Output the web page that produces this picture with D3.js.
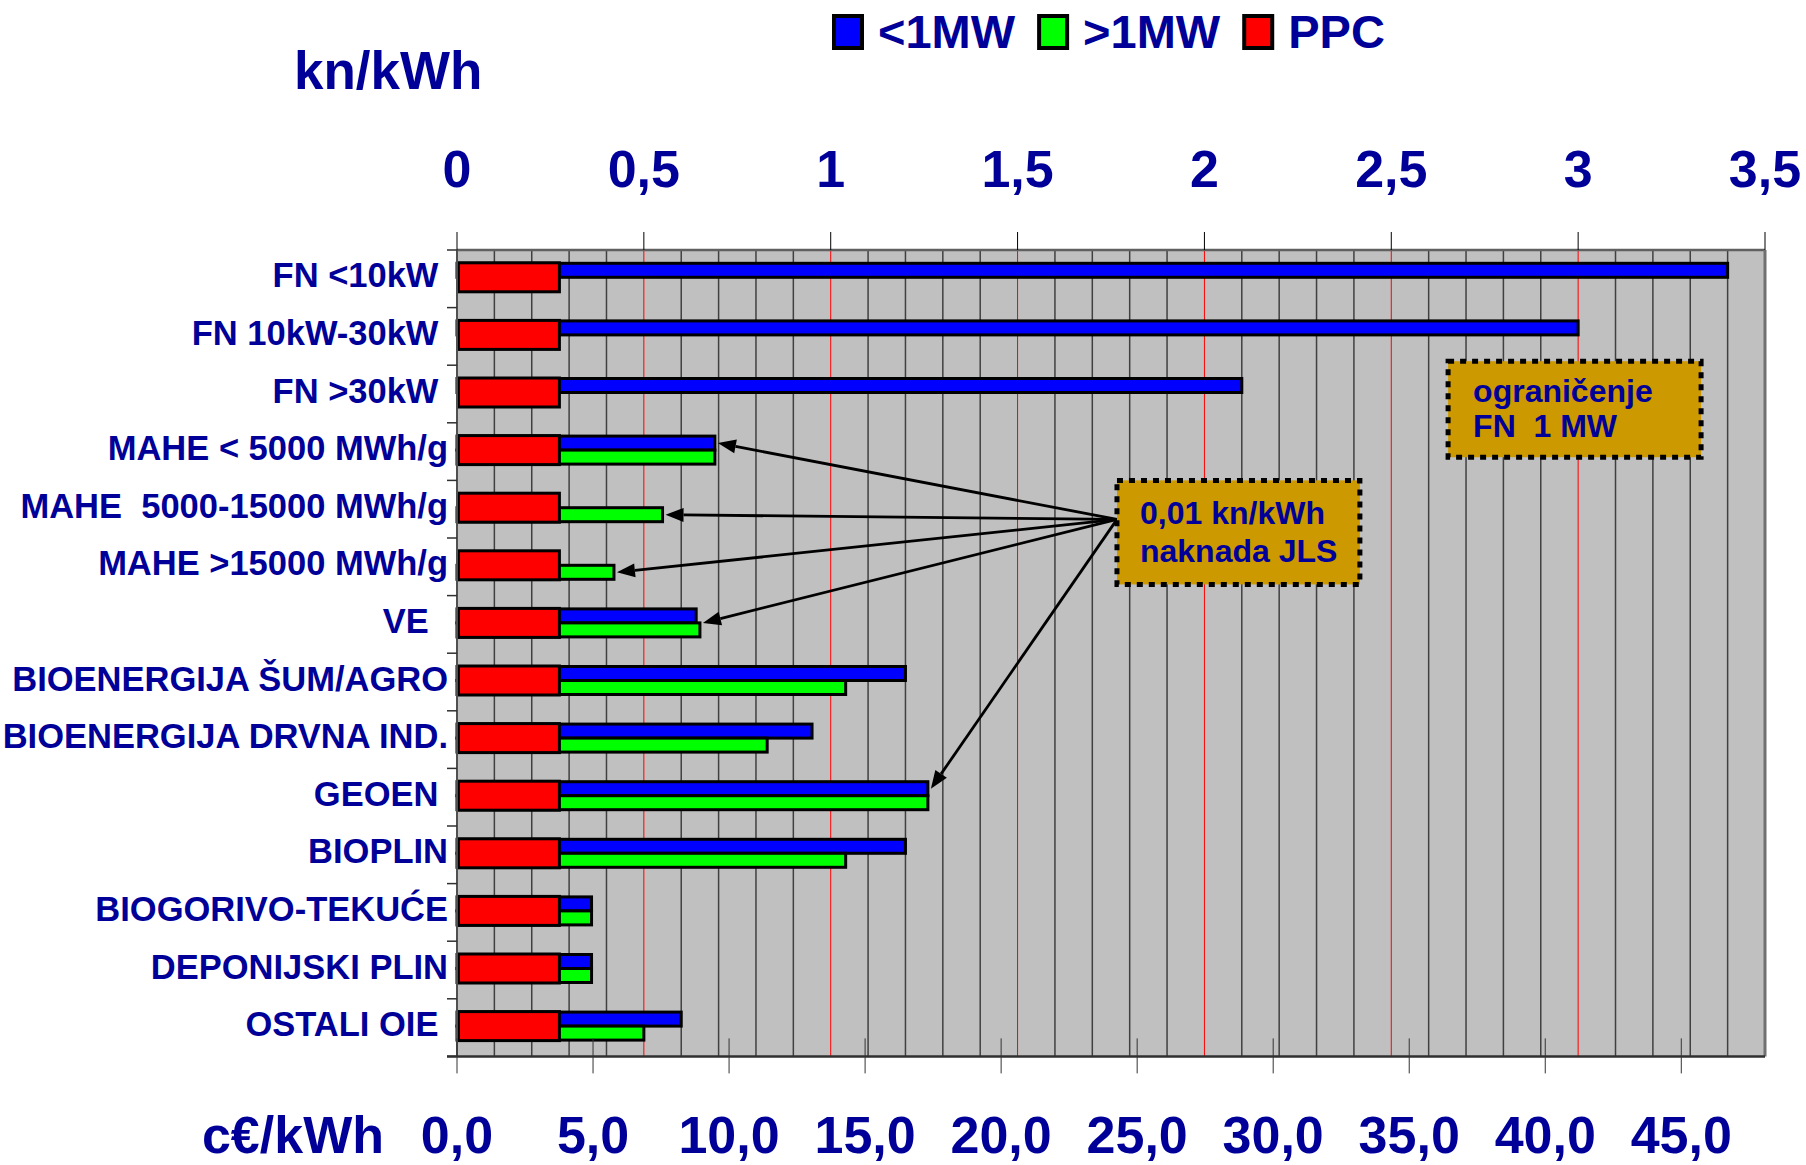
<!DOCTYPE html>
<html><head><meta charset="utf-8">
<script src="https://cdn.jsdelivr.net/npm/d3@7"></script>
<style>
html,body{margin:0;padding:0;background:#fff;}
svg{display:block;}
text{font-family:"Liberation Sans", Arial, sans-serif; font-weight:bold; fill:#000099; white-space:pre;}
</style></head><body>
<svg id="chart" width="1806" height="1165"></svg>
<script>
// ---------- data ----------
const categories = ["FN <10kW ", "FN 10kW-30kW ", "FN >30kW ", "MAHE < 5000 MWh/g", "MAHE  5000-15000 MWh/g",
  "MAHE >15000 MWh/g", "VE  ", "BIOENERGIJA ŠUM/AGRO", "BIOENERGIJA DRVNA IND.", "GEOEN ", "BIOPLIN",
  "BIOGORIVO-TEKUĆE", "DEPONIJSKI PLIN", "OSTALI OIE "];
const seriesNames = ["<1MW", ">1MW", "PPC"];
const below1MW = [3.40, 3.00, 2.10, 0.69, 0, 0, 0.64, 1.20, 0.95, 1.26, 1.20, 0.36, 0.36, 0.60];
const above1MW = [0, 0, 0, 0.69, 0.55, 0.42, 0.65, 1.04, 0.83, 1.26, 1.04, 0.36, 0.36, 0.50];
const ppc      = [0.27, 0.27, 0.27, 0.27, 0.27, 0.27, 0.27, 0.27, 0.27, 0.27, 0.27, 0.27, 0.27, 0.27];
const knTicks = [0, 0.5, 1, 1.5, 2, 2.5, 3, 3.5];
const knTickLabels = ["0", "0,5", "1", "1,5", "2", "2,5", "3", "3,5"];
const eurTicks = [0, 5, 10, 15, 20, 25, 30, 35, 40, 45];
const eurTickLabels = ["0,0", "5,0", "10,0", "15,0", "20,0", "25,0", "30,0", "35,0", "40,0", "45,0"];
const hrkPerEur = 7.28;
const topUnit = "kn/kWh";
const bottomUnit = "c€/kWh";
const note1Lines = ["0,01 kn/kWh", "naknada JLS"];
const note1Targets = [["MAHE < 5000 MWh/g", "<1MW"], ["MAHE  5000-15000 MWh/g", ">1MW"],
  ["MAHE >15000 MWh/g", ">1MW"], ["VE", "both"], ["GEOEN", "<1MW"]];
const note2Lines = ["ograničenje", "FN  1 MW"];

(function () {
// ---------- layout ----------
const colors = {"<1MW": "#0000FF", ">1MW": "#00FF00", "PPC": "#FF0000"};
const pLeft = 457, pRight = 1765, pTop = 250, pBottom = 1056.4;
const svg = d3.select("#chart");

const x = d3.scaleLinear().domain([0, 3.5]).range([pLeft, pRight]);
const xEur = d3.scaleLinear().domain([0, 3.5 * 100 / hrkPerEur]).range([pLeft, pRight]);
const y = d3.scaleBand().domain(categories).range([pTop, pBottom]).padding(0);
const inner = d3.scaleBand().domain(["<1MW", ">1MW"]).range([-14, 14]).padding(0);
const cy = c => y(c) + y.bandwidth() / 2 - 1.5;

// plot background
svg.append("rect").attr("x", pLeft).attr("y", pTop).attr("width", pRight - pLeft).attr("height", pBottom - pTop)
  .attr("fill", "#C0C0C0");

// gridlines every 0.1 kn
const grid = d3.range(1, 35).map(i => i / 10);
svg.append("g").selectAll("line").data(grid).join("line")
  .attr("x1", d => x(d)).attr("x2", d => x(d)).attr("y1", pTop).attr("y2", pBottom)
  .attr("stroke", (d, i) => (i + 1) % 5 === 0 ? "#FF0000" : "#404040")
  .attr("stroke-width", (d, i) => (i + 1) % 5 === 0 ? 1 : 1.5);

// bars
const rows = categories.map((c, i) => ({c, b: below1MW[i], a: above1MW[i], p: ppc[i]}));
const gBars = svg.append("g");
rows.forEach(r => {
  [["<1MW", r.b], [">1MW", r.a]].forEach(([s, v]) => {
    if (v > 0) gBars.append("rect").attr("x", x(0)).attr("y", cy(r.c) + inner(s))
      .attr("width", x(v) - x(0)).attr("height", inner.bandwidth())
      .attr("fill", colors[s]).attr("stroke", "#000").attr("stroke-width", 3);
  });
});
gBars.selectAll("rect.ppc").data(rows).join("rect").attr("class", "ppc")
  .attr("x", x(0) + 1.5).attr("y", d => cy(d.c) - 14.5)
  .attr("width", d => x(d.p) - x(0)).attr("height", 29)
  .attr("fill", colors.PPC).attr("stroke", "#000").attr("stroke-width", 3);

// frame
svg.append("line").attr("x1", pLeft).attr("x2", pRight).attr("y1", pTop).attr("y2", pTop).attr("stroke", "#606060").attr("stroke-width", 2.5);
svg.append("line").attr("x1", pRight).attr("x2", pRight).attr("y1", pTop).attr("y2", pBottom).attr("stroke", "#707070").attr("stroke-width", 3);
svg.append("line").attr("x1", pLeft).attr("x2", pLeft).attr("y1", pTop).attr("y2", pBottom).attr("stroke", "#505050").attr("stroke-width", 2);
svg.append("line").attr("x1", pLeft - 10).attr("x2", pRight).attr("y1", pBottom).attr("y2", pBottom).attr("stroke", "#303030").attr("stroke-width", 2.5);

// top axis ticks + labels
svg.append("g").selectAll("line").data(knTicks).join("line")
  .attr("x1", d => x(d)).attr("x2", d => x(d)).attr("y1", pTop - 18).attr("y2", pTop)
  .attr("stroke", "#000").attr("stroke-width", 1);
svg.append("g").selectAll("text").data(knTicks).join("text")
  .attr("x", d => x(d)).attr("y", 187).attr("text-anchor", "middle")
  .style("font-size", "52px").text((d, i) => knTickLabels[i]);

// left ticks at row boundaries
const bounds = categories.map(c => y(c)).concat([pBottom]);
svg.append("g").selectAll("line").data(bounds).join("line")
  .attr("x1", pLeft - 10).attr("x2", pLeft).attr("y1", d => d).attr("y2", d => d)
  .attr("stroke", "#303030").attr("stroke-width", 1.5);

// bottom axis ticks + labels
svg.append("g").selectAll("line").data(eurTicks).join("line")
  .attr("x1", d => xEur(d)).attr("x2", d => xEur(d)).attr("y1", pBottom - 18).attr("y2", pBottom + 17)
  .attr("stroke", "#333").attr("stroke-width", 1);
svg.append("g").selectAll("text").data(eurTicks).join("text")
  .attr("x", d => xEur(d)).attr("y", 1153).attr("text-anchor", "middle")
  .style("font-size", "52px").text((d, i) => eurTickLabels[i]);

// category labels
svg.append("g").selectAll("text").data(categories).join("text")
  .attr("x", 448).attr("y", d => y(d) + y.bandwidth() / 2 + 8.5).attr("text-anchor", "end")
  .style("font-size", "34.5px").text(d => d);

// unit labels
svg.append("text").attr("x", 294).attr("y", 89).style("font-size", "53px").text(topUnit);
svg.append("text").attr("x", 384).attr("y", 1153).attr("text-anchor", "end").style("font-size", "52px").text(bottomUnit);

// legend
let lx = 832;
seriesNames.forEach(s => {
  svg.append("rect").attr("x", lx + 2).attr("y", 16).attr("width", 28).attr("height", 32)
    .attr("fill", colors[s]).attr("stroke", "#000").attr("stroke-width", 4);
  const t = svg.append("text").attr("x", lx + 46).attr("y", 48).style("font-size", "47px").text(s);
  lx = lx + 46 + t.node().getComputedTextLength() + 22;
});

// annotation boxes
function noteBox(x0, y0, w, h, lines, tx, b1, lh, fs) {
  svg.append("rect").attr("x", x0).attr("y", y0).attr("width", w).attr("height", h)
    .attr("fill", "#CC9900").attr("stroke", "#000").attr("stroke-width", 5).attr("stroke-dasharray", "6 6");
  lines.forEach((l, i) => svg.append("text").attr("x", x0 + tx).attr("y", y0 + b1 + i * lh)
    .style("font-size", fs + "px").text(l));
}
const b1x = x(1.766), b1y = y(categories[4]), b1w = x(2.416) - x(1.766), b1h = 104;
const b2x = x(2.652), b2y = y(categories[2]) - 4, b2w = x(3.329) - x(2.652), b2h = 96;

// arrows
const start = [b1x, b1y + 39];
const gArr = svg.append("g");
note1Targets.forEach(([cat, s]) => {
  const i = categories.findIndex(c => c.trim() === cat.trim());
  const c = categories[i];
  let tx, ty;
  if (s === "<1MW") { tx = x(below1MW[i]) + 3; ty = cy(c) + inner(s) + inner.bandwidth() / 2; }
  else if (s === ">1MW") { tx = x(above1MW[i]) + 3; ty = cy(c) + inner(s) + inner.bandwidth() / 2; }
  else { tx = x(Math.max(below1MW[i], above1MW[i])) + 3; ty = cy(c); }
  const dx = tx - start[0], dy = ty - start[1], L = Math.hypot(dx, dy);
  const ux = dx / L, uy = dy / L, hl = 18, hw = 7;
  gArr.append("line").attr("x1", start[0]).attr("y1", start[1])
    .attr("x2", tx - ux * hl).attr("y2", ty - uy * hl).attr("stroke", "#000").attr("stroke-width", 2.8);
  const bx = tx - ux * hl, by = ty - uy * hl;
  gArr.append("polygon").attr("points", [[tx, ty], [bx - uy * hw, by + ux * hw], [bx + uy * hw, by - ux * hw]].map(p => p.join(",")).join(" "))
    .attr("fill", "#000");
});
noteBox(b1x, b1y, b1w, b1h, note1Lines, 23, 44, 38, 32);
noteBox(b2x, b2y, b2w, b2h, note2Lines, 25, 41, 35, 32);
})();
</script>
</body></html>
